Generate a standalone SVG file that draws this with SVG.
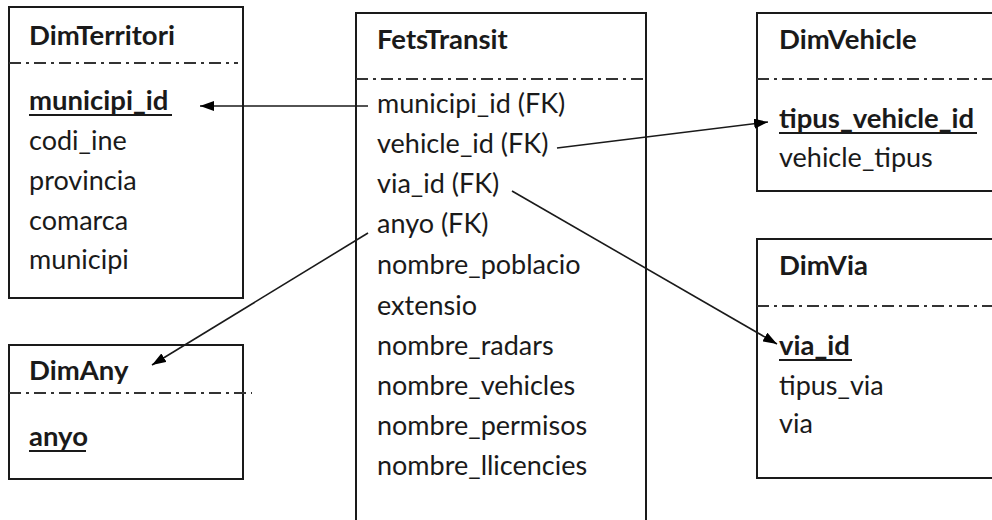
<svg xmlns="http://www.w3.org/2000/svg" width="992" height="520" viewBox="0 0 992 520">
<style>
.box{fill:#fff;stroke:#1a1a1a;stroke-width:2}
.sep{stroke:#333;stroke-width:2;stroke-dasharray:12 5 3 5;fill:none}
.t{font-family:Lato,"Open Sans",sans-serif;font-size:27px;fill:#1a1a1a}
.h{font-weight:bold;font-size:27.5px}
.k{font-weight:bold;font-size:27.5px}
.ul{stroke:#1a1a1a;stroke-width:2}
.c{stroke:#1a1a1a;stroke-width:1.6;fill:none;marker-end:url(#ah)}
</style>
<defs>
<marker id="ah" viewBox="0 0 14 10" refX="14" refY="5" markerWidth="14" markerHeight="10" markerUnits="userSpaceOnUse" orient="auto">
<path d="M0,0 L14,5 L0,10 z" fill="#000"/>
</marker>
</defs>
<rect width="992" height="520" fill="#fff"/>
<g id="DimTerritori">
<rect class="box" x="9" y="7" width="234" height="291"/>
<text class="t h" x="29" y="45">DimTerritori</text>
<line class="sep" x1="9" y1="63" x2="238" y2="63"/>
<text class="t k" x="29" y="110">municipi_id</text>
<line class="ul" x1="29" y1="115" x2="172" y2="115"/>
<text class="t" x="29" y="150">codi_ine</text>
<text class="t" x="29" y="190">provincia</text>
<text class="t" x="29" y="230">comarca</text>
<text class="t" x="29" y="269">municipi</text>
</g>
<g id="FetsTransit">
<rect class="box" x="356" y="13" width="290" height="520"/>
<text class="t h" x="377" y="49">FetsTransit</text>
<line class="sep" x1="356" y1="79" x2="645" y2="79"/>
<text class="t" x="377" y="113">municipi_id (FK)</text>
<text class="t" x="377" y="153">vehicle_id (FK)</text>
<text class="t" x="377" y="193">via_id (FK)</text>
<text class="t" x="377" y="233">anyo (FK)</text>
<text class="t" x="377" y="274">nombre_poblacio</text>
<text class="t" x="377" y="315">extensio</text>
<text class="t" x="377" y="355">nombre_radars</text>
<text class="t" x="377" y="395">nombre_vehicles</text>
<text class="t" x="377" y="435">nombre_permisos</text>
<text class="t" x="377" y="475">nombre_llicencies</text>
</g>
<g id="DimVehicle">
<rect class="box" x="757" y="13" width="250" height="178"/>
<text class="t h" x="779" y="49">DimVehicle</text>
<line class="sep" x1="757" y1="79" x2="992" y2="79"/>
<text class="t k" x="779" y="128">tipus_vehicle_id</text>
<line class="ul" x1="779" y1="133" x2="977" y2="133"/>
<text class="t" x="779" y="167">vehicle_tipus</text>
</g>
<g id="DimVia">
<rect class="box" x="757" y="239" width="250" height="239"/>
<text class="t h" x="779" y="275">DimVia</text>
<line class="sep" x1="757" y1="306" x2="992" y2="306"/>
<text class="t k" x="779" y="355">via_id</text>
<line class="ul" x1="779" y1="360" x2="852" y2="360"/>
<text class="t" x="779" y="395">tipus_via</text>
<text class="t" x="779" y="433">via</text>
</g>
<g id="DimAny">
<rect class="box" x="9" y="345" width="234" height="134"/>
<text class="t h" x="29" y="380">DimAny</text>
<line class="sep" x1="9" y1="393" x2="252" y2="393"/>
<text class="t k" x="29" y="446">anyo</text>
<line class="ul" x1="29" y1="451" x2="86" y2="451"/>
</g>
<g id="connectors">
<line class="c" x1="368" y1="106" x2="200" y2="106"/>
<line class="c" x1="557" y1="148" x2="768" y2="122"/>
<line class="c" x1="512" y1="191" x2="777" y2="344"/>
<line class="c" x1="368" y1="233" x2="152" y2="365"/>
</g>
</svg>
